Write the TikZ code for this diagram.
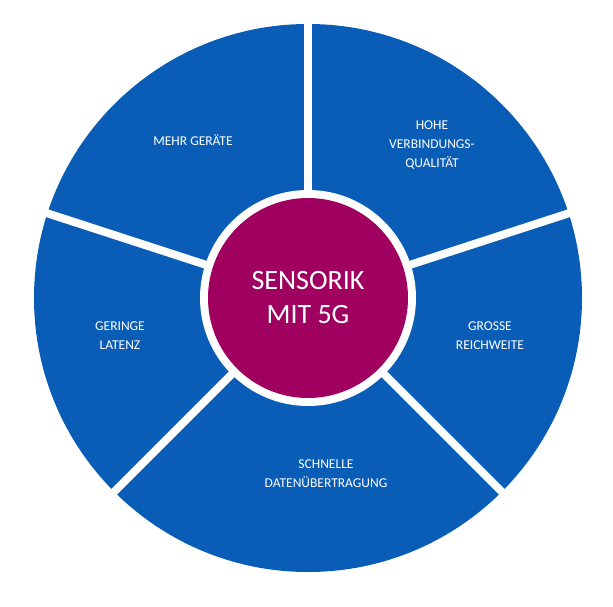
\documentclass[tikz,border=0pt]{standalone}
\usepackage{fontspec}
\setmainfont{Carlito}
\definecolor{segblue}{HTML}{0A5DB6}
\definecolor{hub}{HTML}{A0005F}
\begin{document}
\begin{tikzpicture}[x=1pt,y=-1pt,
  lbl/.style={text=white,align=center,font=\fontsize{13.5}{19}\selectfont},
  sep/.style={white,line width=8pt}]
\useasboundingbox (0,0) rectangle (613,607);
\coordinate (c) at (308,298);
\fill[segblue] (c) circle (274);
\foreach \a/\n in {-90/t1,-18/t2,45/t3,135/t4,-162/t5}
  \path (c) ++(\a:290) coordinate (\n);
\foreach \n in {t1,t2,t3,t4,t5} \draw[sep] (c) -- (\n);
\fill[white] (c) circle (108);
\node[circle,fill=hub,minimum size=200pt,text=white,align=center,
  font=\fontsize{28}{34}\selectfont] (hubn) at (c) {SENSORIK\\MIT 5G};
\node[lbl] (a) at (193,140) {MEHR GERÄTE};
\node[lbl] (b) at (432,145) {HOHE\\VERBINDUNGS-\\QUALITÄT};
\node[lbl] (d) at (490,336) {GROSSE\\REICHWEITE};
\node[lbl] (e) at (326,474) {SCHNELLE\\DATENÜBERTRAGUNG};
\node[lbl] (f) at (120,336) {GERINGE\\LATENZ};
\end{tikzpicture}
\end{document}
